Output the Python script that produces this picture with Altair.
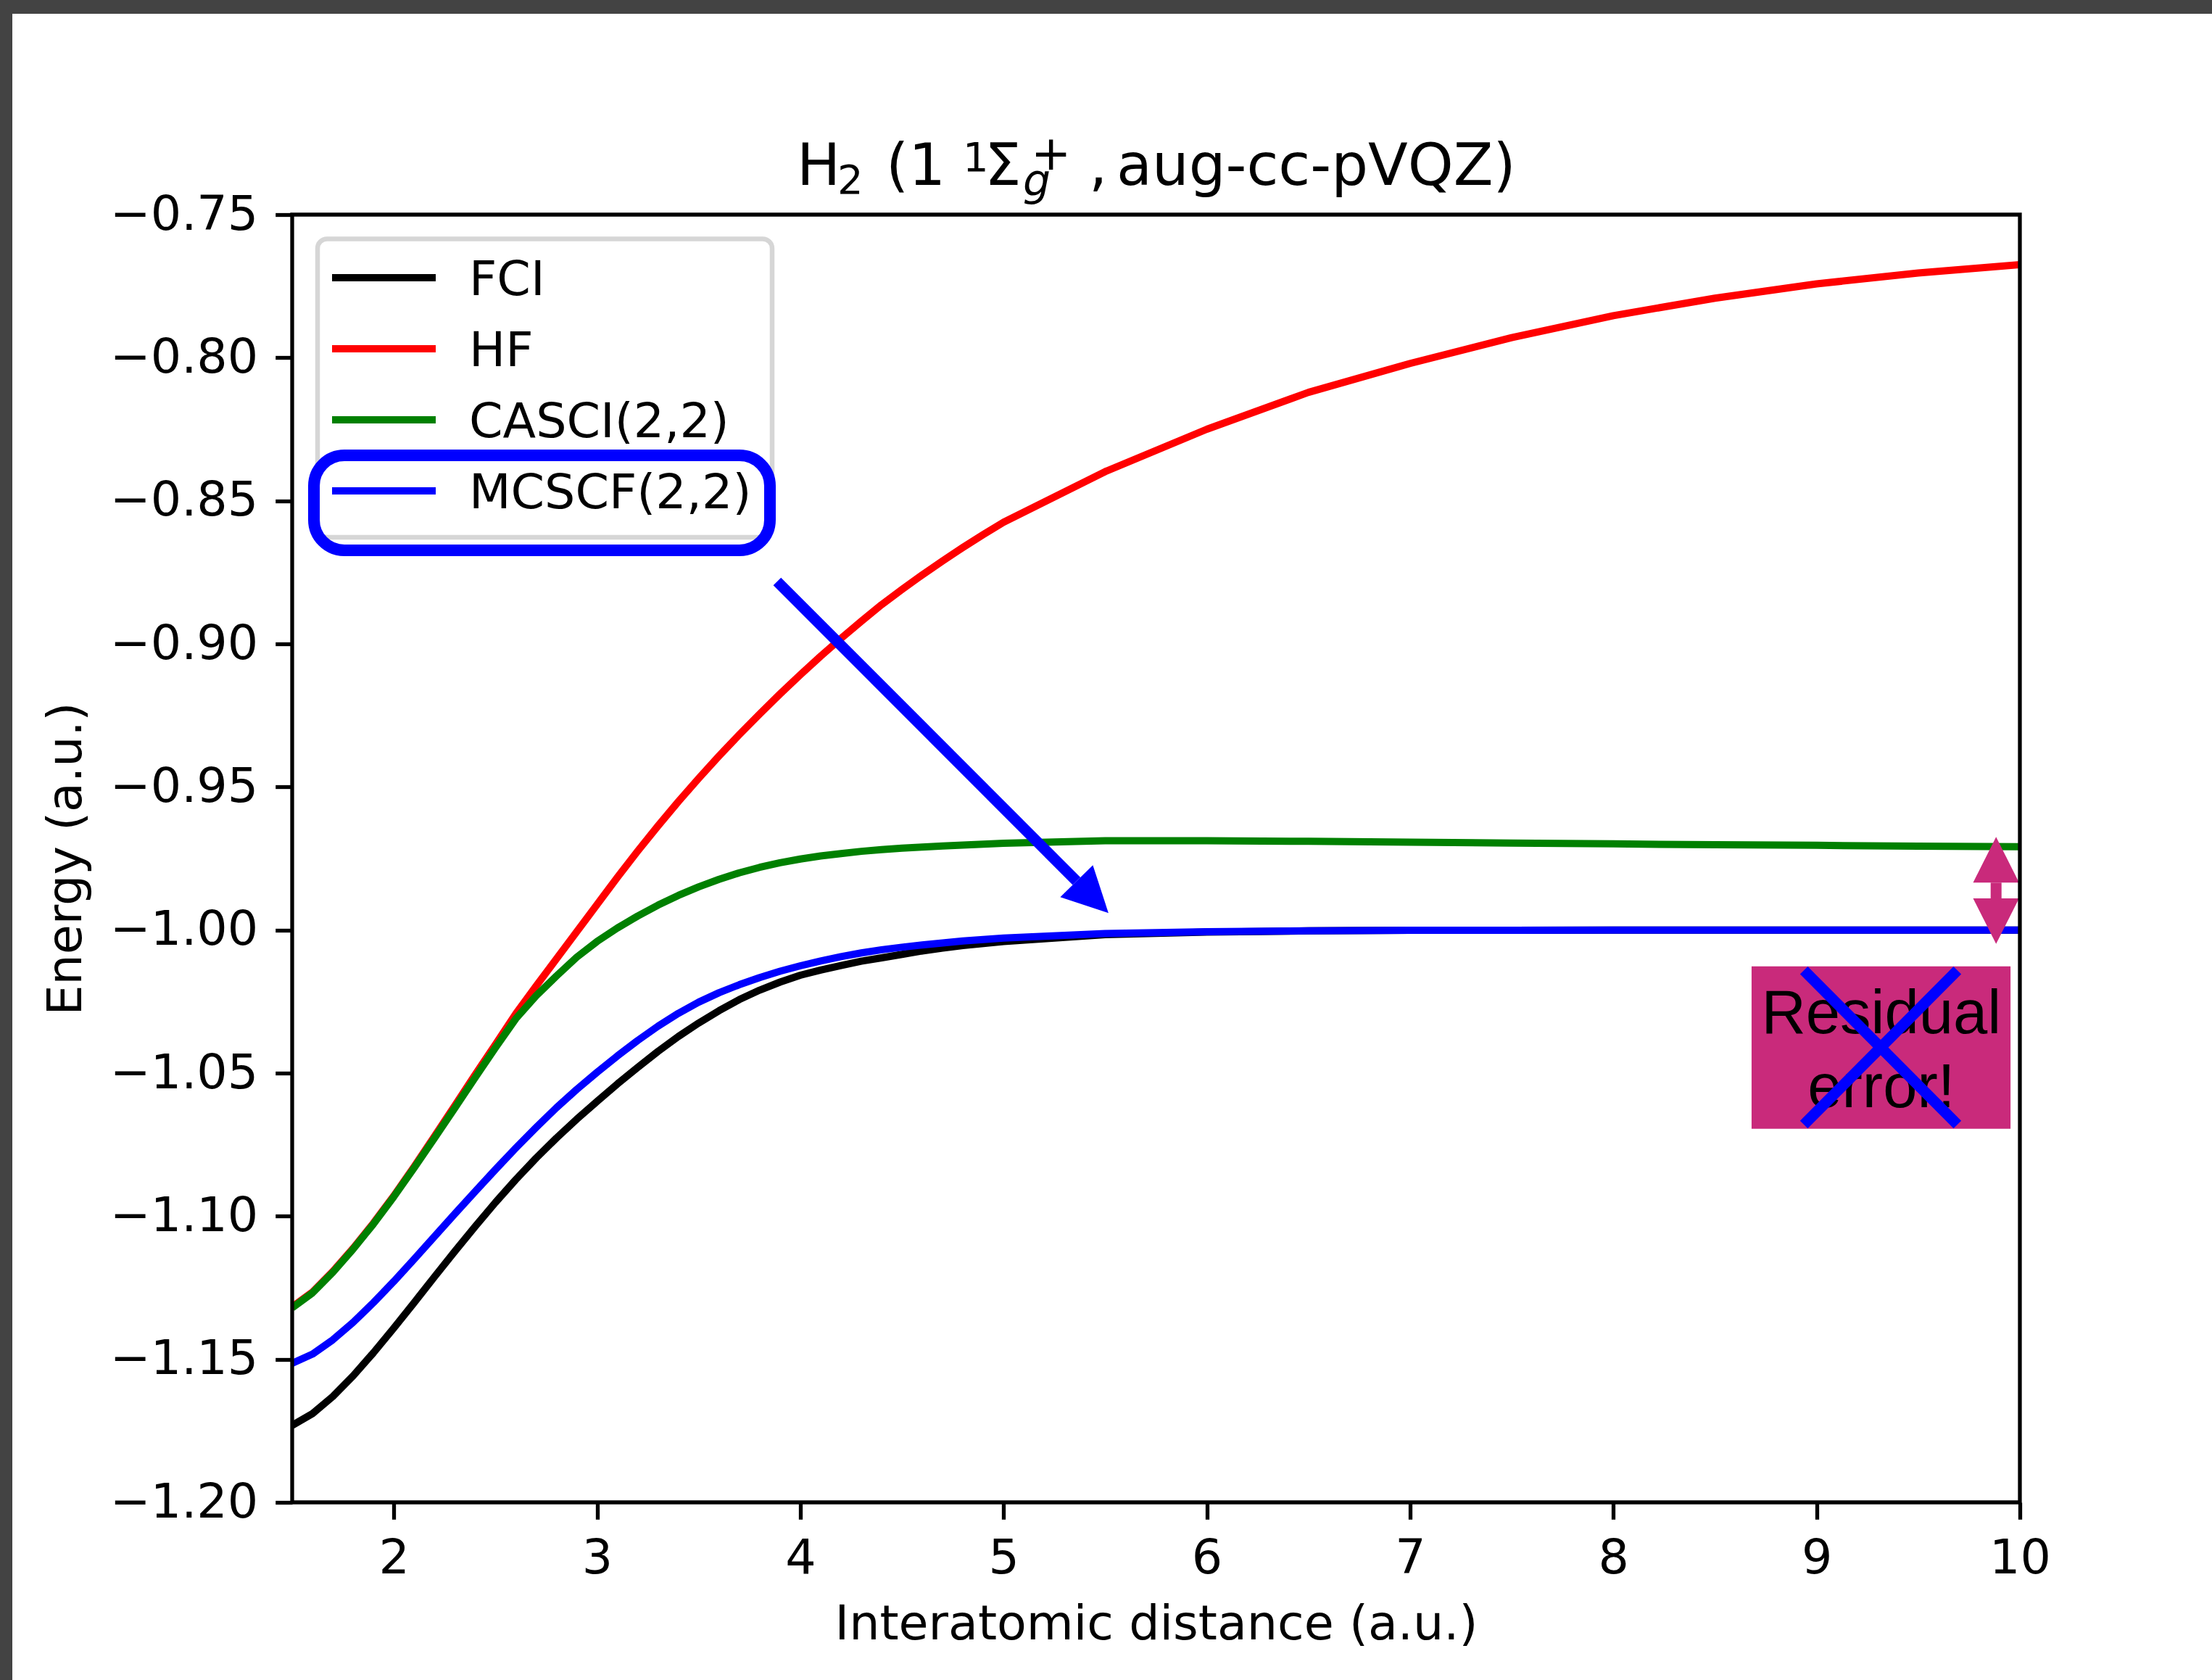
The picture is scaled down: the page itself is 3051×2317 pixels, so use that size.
import altair as alt
import pandas as pd

# ---------------- data ----------------
R = [1.5, 1.6, 1.7, 1.8, 1.9, 2.0, 2.1, 2.2, 2.3, 2.4, 2.5, 2.6, 2.7, 2.8, 2.9,
     3.0, 3.1, 3.2, 3.3, 3.4, 3.5, 3.6, 3.7, 3.8, 3.9, 4.0,
     4.1, 4.2, 4.3, 4.4, 4.5, 4.6, 4.7, 4.8, 4.9, 5.0,
     5.5, 6.0, 6.5, 7.0, 7.5, 8.0, 8.5, 9.0, 9.5, 10.0]

FCI = [-1.1731, -1.1690, -1.1630, -1.1558, -1.1477, -1.1391, -1.1302, -1.1212, -1.1123, -1.1036,
       -1.0952, -1.0872, -1.0797, -1.0727, -1.0661,
       -1.0599, -1.0538, -1.0480, -1.0424, -1.0372, -1.0325, -1.0282, -1.0243, -1.0210, -1.0182, -1.0158,
       -1.0140, -1.0124, -1.0109, -1.0097, -1.0085, -1.0073, -1.0063, -1.0054, -1.0047, -1.0040,
       -1.0016, -1.0007, -1.0003, -1.0001, -1.0001, -1.0000, -1.0000, -1.0000, -1.0000, -1.0000]

HF = [-1.1317, -1.1265, -1.1193, -1.1112, -1.1024, -1.0929, -1.0827, -1.0721, -1.0614, -1.0506,
      -1.0400, -1.0293, -1.0196, -1.0101, -1.0006,
      -0.9911, -0.9816, -0.9724, -0.9636, -0.9551, -0.9470, -0.9392, -0.9317, -0.9245, -0.9175, -0.9108,
      -0.9043, -0.8981, -0.8921, -0.8863, -0.8810, -0.8759, -0.8710, -0.8663, -0.8618, -0.8575,
      -0.8398, -0.8250, -0.8121, -0.8020, -0.7930, -0.7853, -0.7792, -0.7742, -0.7704, -0.7675]

CASCI = [-1.1320, -1.1268, -1.1196, -1.1115, -1.1027, -1.0932, -1.0831, -1.0727, -1.0622, -1.0516,
         -1.0411, -1.0310, -1.0230, -1.0161, -1.0095,
         -1.0040, -0.9993, -0.9951, -0.9913, -0.9879, -0.9849, -0.9823, -0.9800, -0.9781, -0.9765, -0.9752,
         -0.9741, -0.9733, -0.9725, -0.9719, -0.9714, -0.9710, -0.9706, -0.9703, -0.9700, -0.9697,
         -0.9688, -0.9688, -0.9690, -0.9693, -0.9696, -0.9699, -0.9702, -0.9704, -0.9707, -0.9709]

MCSCF = [-1.1514, -1.1482, -1.1432, -1.1371, -1.1302, -1.1228, -1.1150, -1.1071, -1.0992, -1.0914,
         -1.0837, -1.0762, -1.0690, -1.0621, -1.0557,
         -1.0497, -1.0440, -1.0386, -1.0336, -1.0291, -1.0252, -1.0219, -1.0191, -1.0166, -1.0144, -1.0125,
         -1.0108, -1.0093, -1.0080, -1.0069, -1.0060, -1.0052, -1.0045, -1.0038, -1.0033, -1.0028,
         -1.0012, -1.0006, -1.0003, -1.0001, -1.0001, -1.0000, -1.0000, -1.0000, -1.0000, -1.0000]

METHODS = ["FCI", "HF", "CASCI(2,2)", "MCSCF(2,2)"]
SERIES = [FCI, HF, CASCI, MCSCF]
COLORS = ["#000000", "#ff0000", "#008000", "#0000ff"]

X_TICKS = [2, 3, 4, 5, 6, 7, 8, 9, 10]
Y_TICKS = [-0.75, -0.80, -0.85, -0.90, -0.95, -1.00, -1.05, -1.10, -1.15, -1.20]

# annotations in data units
ARROW_R = [3.886, 5.359]
ARROW_E = [-0.8782, -0.9829]
DARROW_R = 9.883
DARROW_E = [-0.98344, -0.98893]
BOX_R = [8.680, 9.954]
BOX_E = [-1.01268, -1.06943]
RESID_TEXT = ["Residual", "error!"]
RESID_R = 9.318
RESID_E = [-1.03606, -1.06183]
CROSS_R = [8.9375, 9.6926]
CROSS_E = [-1.01409, -1.06799]

MAGENTA = "#c92a7b"
BLUE = "#0000ff"
FONT = "DejaVu Sans"

# ---------------- layout ----------------
W, H = 2383, 1776
OX, OY = 403, 296
FS = 66.7

XS = alt.Scale(domain=[1.5, 10], nice=False, zero=False)
YS = alt.Scale(domain=[-1.20, -0.75], nice=False, zero=False)

XA = alt.Axis(values=X_TICKS, format="d", title="Interatomic distance (a.u.)", grid=False, domain=False,
              tickSize=23.3, tickWidth=5.3, tickColor="black", labelFont=FONT, labelFontSize=FS,
              labelColor="black", labelPadding=21, labelFlush=False, labelOverlap=False, labelLimit=500,
              titleFont=FONT, titleFontSize=FS, titleFontWeight="normal", titleColor="black",
              titleX=W / 2, titleY=188.7, titleBaseline="alphabetic", titleAlign="center", titleLimit=3000)
YA = alt.Axis(values=Y_TICKS, labelExpr="replace(format(datum.value, '.2f'), '-', '\u2212')",
              title="Energy (a.u.)", grid=False, domain=False,
              tickSize=23.3, tickWidth=5.3, tickColor="black", labelFont=FONT, labelFontSize=FS,
              labelColor="black", labelPadding=24, labelFlush=False, labelOverlap=False, labelLimit=500,
              labelBaseline="middle",
              titleFont=FONT, titleFontSize=FS, titleFontWeight="normal", titleColor="black",
              titleAngle=270, titleX=-291.3, titleY=H / 2, titleBaseline="alphabetic", titleAlign="center",
              titleLimit=3000)

one = pd.DataFrame({"k": [0]})


def xenc(f="R"):
    return alt.X(f + ":Q", scale=XS, axis=XA)


def yenc(f="E"):
    return alt.Y(f + ":Q", scale=YS, axis=YA)


layers = []

# curves (drawn in legend order so blue lies over black and green over red)
for name, vals, col in zip(METHODS, SERIES, COLORS):
    df = pd.DataFrame({"R": R, "E": vals, "method": name})
    layers.append(
        alt.Chart(df).mark_line(color=col, strokeWidth=10, strokeJoin="round", clip=True)
        .encode(x=xenc(), y=yenc(), order="R:Q")
    )


def px_rect(x1, x2, y1, y2, **kw):
    return alt.Chart(one).mark_rect(**kw).encode(
        x=alt.value(x1), x2=alt.value(x2), y=alt.value(y1), y2=alt.value(y2))


def px_text(t, x, y, size, style="normal", font=FONT):
    return alt.Chart(one).mark_text(align="left", baseline="alphabetic", font=font, fontSize=size,
                                    fontStyle=style, color="black").encode(
        x=alt.value(x), y=alt.value(y), text=alt.value(t))


# legend (matplotlib-like)
layers.append(px_rect(35, 662, 33.5, 445, fill="white", fillOpacity=0.8, stroke="#d6d6d6",
                      strokeWidth=6.5, cornerRadius=13))
ROW_Y = [87, 185, 283, 381]
for name, col, ry in zip(METHODS, COLORS, ROW_Y):
    layers.append(alt.Chart(one).mark_rule(color=col, strokeWidth=10).encode(
        x=alt.value(55), x2=alt.value(198), y=alt.value(ry)))
    layers.append(px_text(name, 244, ry + 23.7, FS))

# blue rounded box around the MCSCF legend entry
layers.append(px_rect(30, 659, 332, 463, fillOpacity=0, stroke=BLUE, strokeWidth=16, cornerRadius=42))

# blue arrow
arrow_df = pd.DataFrame({"R": [ARROW_R[0]], "E": [ARROW_E[0]], "R2": [ARROW_R[1]], "E2": [ARROW_E[1]]})
layers.append(alt.Chart(arrow_df).mark_rule(color=BLUE, strokeWidth=15, strokeCap="butt").encode(
    x=xenc(), y=yenc(), x2="R2:Q", y2="E2:Q"))
head_df = pd.DataFrame({"R": [ARROW_R[1]], "E": [ARROW_E[1]]})
layers.append(alt.Chart(head_df).mark_point(shape="M0.88,0.88L-0.45,0.44L0.45,-0.44Z", filled=True,
                                            size=10000, color=BLUE, opacity=1, strokeWidth=0).encode(
    x=xenc(), y=yenc()))

# magenta box with text and blue cross
box_df = pd.DataFrame({"R": [BOX_R[0]], "R2": [BOX_R[1]], "E": [BOX_E[0]], "E2": [BOX_E[1]]})
layers.append(alt.Chart(box_df).mark_rect(color=MAGENTA, opacity=1).encode(
    x=xenc(), x2="R2:Q", y=yenc(), y2="E2:Q"))
txt_df = pd.DataFrame({"R": [RESID_R, RESID_R], "E": RESID_E, "t": RESID_TEXT})
layers.append(alt.Chart(txt_df).mark_text(font="Liberation Sans", fontSize=85, align="center",
                                          baseline="alphabetic", color="black").encode(
    x=xenc(), y=yenc(), text="t:N"))
cross_df = pd.DataFrame({"R": [CROSS_R[0], CROSS_R[1]], "E": [CROSS_E[0], CROSS_E[0]],
                         "R2": [CROSS_R[1], CROSS_R[0]], "E2": [CROSS_E[1], CROSS_E[1]]})
layers.append(alt.Chart(cross_df).mark_rule(color=BLUE, strokeWidth=15, strokeCap="butt").encode(
    x=xenc(), y=yenc(), x2="R2:Q", y2="E2:Q"))

# magenta double arrow
dshaft = pd.DataFrame({"R": [DARROW_R], "E": [DARROW_E[0]], "E2": [DARROW_E[1]]})
layers.append(alt.Chart(dshaft).mark_rule(color=MAGENTA, strokeWidth=15, strokeCap="butt").encode(
    x=xenc(), y=yenc(), y2="E2:Q"))
up_df = pd.DataFrame({"R": [DARROW_R], "E": [DARROW_E[0]]})
layers.append(alt.Chart(up_df).mark_point(shape="M0,-1.26L-0.634,0L0.634,0Z", filled=True, size=10000,
                                          color=MAGENTA, opacity=1, strokeWidth=0).encode(x=xenc(), y=yenc()))
dn_df = pd.DataFrame({"R": [DARROW_R], "E": [DARROW_E[1]]})
layers.append(alt.Chart(dn_df).mark_point(shape="M0,1.254L-0.634,0L0.634,0Z", filled=True, size=10000,
                                          color=MAGENTA, opacity=1, strokeWidth=0).encode(x=xenc(), y=yenc()))

# axes spines on top
layers.append(px_rect(0, W, 0, H, fillOpacity=0, stroke="black", strokeWidth=5.3))

# title pieces (mathtext-like): H2 (1 ^1 Sigma_g^+, aug-cc-pVQZ)
TITLE_PIECES = [("H", 1099, 255, 80, "normal"), ("2", 1155, 267, 56, "normal"),
                ("(1", 1222, 255, 80, "normal"), ("1", 1328, 236, 56, "normal"),
                ("\u03a3", 1358, 255, 80, "normal"), ("g", 1411, 270, 60, "italic"),
                ("+", 1422, 234, 66, "normal"), (",", 1502, 255, 80, "normal"),
                ("aug-cc-pVQZ)", 1540, 255, 80, "normal")]
for t, x, y, s, st in TITLE_PIECES:
    layers.append(px_text(t, x - OX, y - OY, s, st))

# dark screenshot frame (top and left)
layers.append(px_rect(-OX, 3051 - OX, -OY, 19 - OY, fill="#434343", strokeWidth=0))
layers.append(px_rect(-OX, 17 - OX, -OY, 2317 - OY, fill="#434343", strokeWidth=0))

chart = alt.layer(*layers).properties(
    width=W, height=H,
    autosize=alt.AutoSizeParams(type="none"),
    padding={"left": OX, "top": OY, "right": 3051 - OX - W, "bottom": 2317 - OY - H},
    background="white",
).configure_view(strokeWidth=0)

chart.save("out.html", embed_options={"renderer": "svg", "actions": False})
